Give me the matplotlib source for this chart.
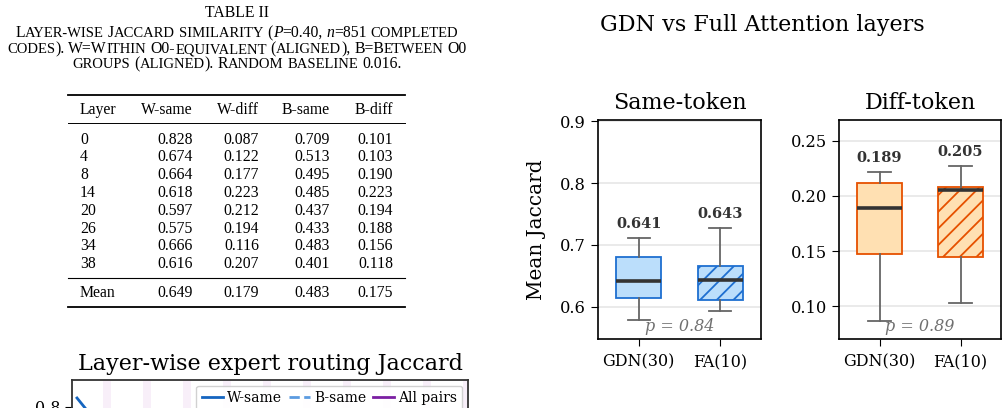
import matplotlib
matplotlib.use('Agg')
import matplotlib.pyplot as plt
from matplotlib.lines import Line2D

plt.rcParams['font.family'] = 'DejaVu Serif'
plt.rcParams['hatch.linewidth'] = 1.3

# ---- table data ----
layers = [0, 4, 8, 14, 20, 26, 34, 38]
w_same = [0.828, 0.674, 0.664, 0.618, 0.597, 0.575, 0.666, 0.616]
w_diff = [0.087, 0.122, 0.177, 0.223, 0.212, 0.194, 0.116, 0.207]
b_same = [0.709, 0.513, 0.495, 0.485, 0.437, 0.433, 0.483, 0.401]
b_diff = [0.101, 0.103, 0.190, 0.223, 0.194, 0.188, 0.156, 0.118]
means = [0.649, 0.179, 0.483, 0.175]
col_names = ['Layer', 'W-same', 'W-diff', 'B-same', 'B-diff']

# ---- boxplot data (GDN, FA) ----
groups = ['GDN(30)', 'FA(10)']
same_med = [0.641, 0.643]
same_q1 = [0.614, 0.611]
same_q3 = [0.681, 0.666]
same_lo = [0.578, 0.593]
same_hi = [0.711, 0.727]
same_p = 0.84
diff_med = [0.189, 0.205]
diff_q1 = [0.147, 0.145]
diff_q3 = [0.212, 0.208]
diff_lo = [0.087, 0.103]
diff_hi = [0.222, 0.227]
diff_p = 0.89

# full attention layers (shaded in the line chart)
fa_layers = [3, 7, 11, 15, 19, 23, 27, 31, 35, 39]

W, H = 1008, 408
fig = plt.figure(figsize=(W / 100, H / 100), dpi=100)


def px_axes(x0, y0, x1, y1):
    return fig.add_axes([x0 / W, 1 - y1 / H, (x1 - x0) / W, (y1 - y0) / H])


# ---------------- table (left) ----------------
tab = fig.add_axes([0, 0, 1, 1])
tab.set_xlim(0, W)
tab.set_ylim(H, 0)
tab.axis('off')
renderer = fig.canvas.get_renderer()
TF = 'Liberation Serif'
BIG, SMALL = 11.3, 10.5


def sc_line(y, pieces, cx=237):
    # poor man's small caps: pieces drawn one after another
    items = []
    for p in pieces:
        if p == ' ':
            items.append((None, 3.9))
            continue
        s, k = p
        t = tab.text(0, y, s, fontsize=SMALL if k == 'S' else BIG,
                     fontstyle='italic' if k == 'I' else 'normal',
                     family=TF, va='baseline', ha='left')
        items.append((t, t.get_window_extent(renderer).width))
    x = cx - sum(w for _, w in items) / 2
    for t, w in items:
        if t is not None:
            t.set_x(x)
        x += w


tab.text(237, 17, 'TABLE II', fontsize=BIG, family=TF, ha='center', va='baseline')
sc_line(37, [('L', 'B'), ('AYER-WISE', 'S'), ' ', ('J', 'B'), ('ACCARD', 'S'), ' ',
             ('SIMILARITY', 'S'), ' ', ('(', 'B'), ('P', 'I'), ('=0.40,', 'B'), ' ',
             ('n', 'I'), ('=851', 'B'), ' ', ('COMPLETED', 'S')])
sc_line(53, [('CODES', 'S'), (').', 'B'), ' ', ('W=W', 'B'), ('ITHIN', 'S'), ' ',
             ('O0-', 'B'), ('EQUIVALENT', 'S'), ' ', ('(', 'B'), ('ALIGNED', 'S'),
             ('),', 'B'), ' ', ('B=B', 'B'), ('ETWEEN', 'S'), ' ', ('O0', 'B')])
sc_line(68, [('GROUPS', 'S'), ' ', ('(', 'B'), ('ALIGNED', 'S'), (').', 'B'), ' ',
             ('R', 'B'), ('ANDOM', 'S'), ' ', ('BASELINE', 'S'), ' ', ('0.016.', 'B')])

col_x = [80, 193, 259, 330, 393]
tab.plot([68, 405], [95, 95], color='black', lw=1.3)
tab.plot([68, 405], [123, 123], color='black', lw=0.7)
tab.plot([68, 405], [278, 278], color='black', lw=0.8)
tab.plot([68, 405], [307, 307], color='black', lw=1.3)
for j, name in enumerate(col_names):
    tab.text(col_x[j], 114.5, name, fontsize=BIG, family=TF,
             ha='left' if j == 0 else 'right', va='baseline')
for i, lay in enumerate(layers):
    yb = 143.5 + 17.83 * i
    row = [w_same[i], w_diff[i], b_same[i], b_diff[i]]
    tab.text(col_x[0], yb, str(lay), fontsize=BIG, family=TF, va='baseline')
    for j, v in enumerate(row):
        tab.text(col_x[j + 1], yb, f'{v:.3f}', fontsize=BIG, family=TF,
                 ha='right', va='baseline')
tab.text(col_x[0], 297, 'Mean', fontsize=BIG, family=TF, va='baseline')
for j, v in enumerate(means):
    tab.text(col_x[j + 1], 297, f'{v:.3f}', fontsize=BIG, family=TF,
             ha='right', va='baseline')

# ---------------- layer-wise line chart (cut off at bottom) ----------------
lax = px_axes(72, 380, 468, 664)
for l in fa_layers:
    lax.axvspan(l - 0.4, l + 0.4, color='#9C27B0', alpha=0.07, lw=0)
lax.plot(layers, w_same, color='#1565C0', lw=2, label='W-same')
lax.plot(layers, b_same, color='#5B9BE0', lw=2, ls='--', label='B-same')
lax.set_xlim(-0.5, 39.1)
lax.set_ylim(0, 0.884)
lax.set_yticks([0.8])
lax.tick_params(labelsize=11.5, length=5, labelbottom=False)
for s in lax.spines.values():
    s.set_color('#333333')
    s.set_linewidth(1.3)
lax.set_title('Layer-wise expert routing Jaccard', fontsize=16, pad=7)
handles = [Line2D([], [], color='#1565C0', lw=2),
           Line2D([], [], color='#5B9BE0', lw=2, ls='--'),
           Line2D([], [], color='#7B1FA2', lw=2)]
lax.legend(handles, ['W-same', 'B-same', 'All pairs'], ncol=3, loc='upper right',
           fontsize=10, handlelength=1.5, handletextpad=0.3, columnspacing=0.5,
           borderaxespad=0.4, framealpha=0.9)

# ---------------- boxplots (right) ----------------
fig.text(762 / W, 1 - 25 / H, 'GDN vs Full Attention layers', fontsize=16,
         ha='center', va='center')


def box_panel(ax, med, q1, q3, lo, hi, pval, face, edge, title, ylim, yticks):
    stats = [dict(med=med[i], q1=q1[i], q3=q3[i], whislo=lo[i], whishi=hi[i], fliers=[])
             for i in range(len(groups))]
    bp = ax.bxp(stats, positions=[0, 1], widths=0.55, patch_artist=True,
                showfliers=False,
                medianprops=dict(color='#333333', lw=2.6),
                whiskerprops=dict(color='#666666', lw=1.3),
                capprops=dict(color='#666666', lw=1.3))
    for i, patch in enumerate(bp['boxes']):
        patch.set_facecolor(face)
        patch.set_edgecolor(edge)
        patch.set_linewidth(1.3)
        if i == 1:
            patch.set_hatch('//')
    for i in range(len(groups)):
        ax.annotate(f'{med[i]:.3f}', xy=(i, hi[i]), xytext=(0, 5),
                    textcoords='offset points', ha='center', va='bottom',
                    fontsize=10.5, fontweight='bold', color='#333333')
    ax.text(0.5, 0.055, f'p = {pval:.2f}', transform=ax.transAxes, ha='center',
            va='center', fontsize=11.5, style='italic', color='#707070', zorder=5)
    ax.set_xlim(-0.5, 1.5)
    ax.set_ylim(*ylim)
    ax.set_yticks(yticks)
    ax.set_xticks([0, 1])
    ax.set_xticklabels(groups)
    ax.yaxis.grid(True, color='#e6e6e6', lw=1.2)
    ax.set_axisbelow(True)
    ax.tick_params(axis='y', labelsize=11.7, length=5)
    ax.tick_params(axis='x', labelsize=11.5, length=5, pad=5)
    ax.set_title(title, fontsize=16, pad=8)
    for s in ax.spines.values():
        s.set_linewidth(1.2)


ax1 = px_axes(598, 120, 761, 339)
box_panel(ax1, same_med, same_q1, same_q3, same_lo, same_hi, same_p,
          '#BBDEFB', '#1E6FD0', 'Same-token', (0.548, 0.902), [0.6, 0.7, 0.8, 0.9])
ax1.set_ylabel('Mean Jaccard', fontsize=14.4)
ax1.yaxis.set_label_coords(-0.32, 0.5)

ax2 = px_axes(839, 120, 1001, 339)
box_panel(ax2, diff_med, diff_q1, diff_q3, diff_lo, diff_hi, diff_p,
          '#FFE0B2', '#E65100', 'Diff-token', (0.0704, 0.2688), [0.10, 0.15, 0.20, 0.25])

fig.savefig('out.png', dpi=100)
